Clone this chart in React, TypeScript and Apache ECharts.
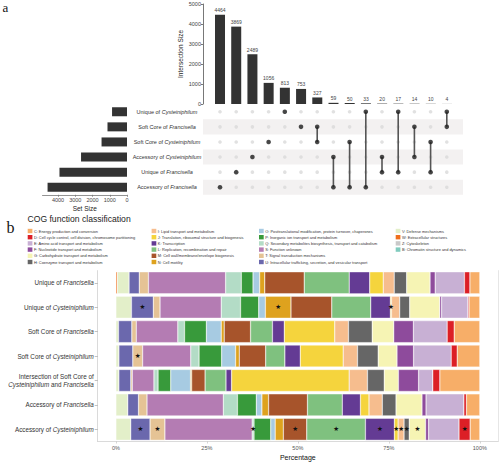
import React, { useEffect, useRef } from 'react';
import * as echarts from 'echarts';

// ---------- UpSet data ----------
const setNames = [
  'Unique of Cysteiniphilum',
  'Soft Core of Francisella',
  'Soft Core of Cysteiniphilum',
  'Accessory of Cysteiniphilum',
  'Unique of Francisella',
  'Accessory of Francisella',
];
const setSizes = [867, 1131, 1476, 2665, 3916, 4606];
const intersectionSizes = [4464, 3869, 2489, 1056, 813, 753, 327, 59, 50, 33, 20, 17, 14, 10, 4];
const intersectionMembers = [
  [5], [4], [3], [2], [0], [1], [1, 2], [3, 5], [2, 5], [0, 5], [3, 4], [0, 4], [1, 3], [2, 4], [0, 1],
];
const intersectionSizeTicks = [0, 1000, 2000, 3000, 4000, 5000];
const setSizeTicks = [0, 1000, 2000, 3000, 4000];

// ---------- COG data ----------
const cogCodes = ['C', 'D', 'E', 'F', 'G', 'H', 'I', 'J', 'K', 'L', 'M', 'N', 'O', 'P', 'Q', 'S', 'T', 'U', 'V', 'W', 'Z', 'B'];
const cogNames = [
  'C: Energy production and conversion',
  'D: Cell cycle control, cell division, chromosome partitioning',
  'E: Amino acid transport and metabolism',
  'F: Nucleotide transport and metabolism',
  'G: Carbohydrate transport and metabolism',
  'H: Coenzyme transport and metabolism',
  'I: Lipid transport and metabolism',
  'J: Translation, ribosomal structure and biogenesis',
  'K: Transcription',
  'L: Replication, recombination and repair',
  'M: Cell wall/membrane/envelope biogenesis',
  'N: Cell motility',
  'O: Posttranslational modification, protein turnover, chaperones',
  'P: Inorganic ion transport and metabolism',
  'Q: Secondary metabolites biosynthesis, transport and catabolism',
  'S: Function unknown',
  'T: Signal transduction mechanisms',
  'U: Intracellular trafficking, secretion, and vesicular transport',
  'V: Defense mechanisms',
  'W: Extracellular structures',
  'Z: Cytoskeleton',
  'B: Chromatin structure and dynamics',
];
const cogRows = [
  'Unique of Francisella',
  'Unique of Cysteiniphilum',
  'Soft Core of Francisella',
  'Soft Core of Cysteiniphilum',
  'Intersection of Soft Core of\nCysteiniphilum and Francisella',
  'Accessory of Francisella',
  'Accessory of Cysteiniphilum',
];
// values in cogCodes order (C ... B)
const uniqueFrancisella = [2.7, 1.5, 8.0, 1.4, 6.4, 3.4, 3.0, 3.7, 5.6, 12.3, 10.8, 1.4, 1.8, 3.2, 4.3, 21.1, 2.5, 2.8, 3.2, 0.4, 0, 0];
const uniqueCysteiniphilum = [2.9, 0.3, 7.1, 0.5, 8.1, 2.7, 2.2, 0.3, 5.3, 10.5, 11.0, 6.9, 1.8, 4.9, 5.2, 16.5, 1.8, 5.9, 4.2, 0, 0, 0];
const softCoreFrancisella = [6.9, 1.9, 9.1, 5.3, 5.8, 6.4, 3.7, 13.6, 3.2, 5.9, 7.1, 0.8, 4.0, 5.9, 1.8, 11.2, 1.2, 3.6, 0.7, 0, 0, 0];
const softCoreCysteiniphilum = [6.0, 1.6, 10.0, 4.4, 5.0, 5.5, 3.8, 11.4, 4.1, 5.1, 7.0, 1.0, 3.7, 6.0, 2.2, 12.8, 2.6, 3.7, 0.8, 0, 0, 0];
const intersectionSoftCore = [10.7, 1.9, 3.8, 5.4, 3.8, 4.5, 4.9, 31.5, 1.5, 5.6, 3.6, 0.3, 5.3, 3.4, 1.1, 5.8, 0.4, 3.2, 0.8, 0, 0, 0];
const accessoryFrancisella = [3.6, 0.7, 10.2, 1.1, 7.0, 3.7, 3.6, 2.3, 4.9, 9.4, 10.5, 1.8, 1.5, 5.1, 3.8, 20.6, 2.3, 2.9, 3.2, 0, 0, 0];
const accessoryCysteiniphilum = [2.6, 3.0, 8.2, 0.8, 4.4, 1.4, 1.6, 1.0, 7.8, 15.8, 6.3, 2.2, 1.2, 4.5, 0.5, 23.5, 4.0, 5.2, 4.0, 0, 0, 0];
const rowValues = [
  uniqueFrancisella, uniqueCysteiniphilum, softCoreFrancisella, softCoreCysteiniphilum,
  intersectionSoftCore, accessoryFrancisella, accessoryCysteiniphilum,
];
const starsUniqueCysteiniphilum = ['U', 'N', 'J'];
const starsSoftCoreCysteiniphilum = ['T'];
const starsAccessoryCysteiniphilum = ['U', 'T', 'Q', 'M', 'L', 'K', 'J', 'I', 'H', 'G', 'D'];
const rowStars = [[], starsUniqueCysteiniphilum, [], starsSoftCoreCysteiniphilum, [], [], starsAccessoryCysteiniphilum];
const percentTicks = [0, 25, 50, 75, 100];

// ---------- styles ----------
const cogColors = [
  '#F7AE68', '#DC1F26', '#C8B0D4', '#8E4B9C', '#F6F4B4', '#666666', '#F6BD8E', '#F5D43D', '#643B94', '#7FC17F', '#A7542B',
  '#DEA21E', '#A7CBE2', '#389A3B', '#B3DCC6', '#B47CB3', '#E5C395', '#6B68AD', '#E3EFC9', '#EF6F1C', '#C9C9C9', '#80CBBE',
];
const FONT = '"Liberation Sans", Arial, sans-serif';

function italicize(label: string): string {
  return label
    .split('\n')
    .map((line) =>
      line
        .split(/(Francisella|Cysteiniphilum)/)
        .filter((s) => s.length > 0)
        .map((s) => (s === 'Francisella' || s === 'Cysteiniphilum' ? `{i|${s}}` : `{n|${s}}`))
        .join('')
    )
    .join('\n');
}

const plain = (v: number) => String(v);

function buildOption() {
  const series: any[] = [];

  // intersection size bars
  series.push({
    type: 'bar',
    xAxisIndex: 0,
    yAxisIndex: 0,
    data: intersectionSizes,
    barWidth: 10,
    itemStyle: { color: '#333333' },
    label: { show: true, position: 'top', distance: 2, fontSize: 5, color: '#444', fontFamily: FONT },
    silent: true,
  });

  // matrix background dots
  const bgDots: number[][] = [];
  intersectionSizes.forEach((_, i) => setNames.forEach((__, j) => bgDots.push([i, j])));
  series.push({
    type: 'scatter',
    xAxisIndex: 1,
    yAxisIndex: 1,
    data: bgDots,
    symbolSize: 3.6,
    itemStyle: { color: '#DADADA' },
    silent: true,
    z: 2,
  });
  // connecting lines
  intersectionMembers.forEach((m, i) => {
    if (m.length > 1) {
      series.push({
        type: 'line',
        xAxisIndex: 1,
        yAxisIndex: 1,
        data: [[i, Math.min(...m)], [i, Math.max(...m)]],
        symbol: 'none',
        lineStyle: { color: '#555', width: 1.6 },
        silent: true,
        z: 3,
      });
    }
  });
  // member dots
  const memberDots: number[][] = [];
  intersectionMembers.forEach((m, i) => m.forEach((j) => memberDots.push([i, j])));
  series.push({
    type: 'scatter',
    xAxisIndex: 1,
    yAxisIndex: 1,
    data: memberDots,
    symbolSize: 4.6,
    itemStyle: { color: '#1f1f1f' },
    silent: true,
    z: 4,
  });

  // set size bars
  series.push({
    type: 'bar',
    xAxisIndex: 2,
    yAxisIndex: 2,
    data: setSizes,
    barWidth: 9,
    itemStyle: { color: '#333333' },
    silent: true,
  });

  // COG stacked bars (ggplot fill -> shares of each row)
  const shares = rowValues.map((r) => {
    const t = r.reduce((a, b) => a + b, 0);
    return r.map((v) => (v / t) * 100);
  });
  for (let k = cogCodes.length - 1; k >= 0; k--) {
    series.push({
      type: 'bar',
      name: cogNames[k],
      xAxisIndex: 3,
      yAxisIndex: 3,
      stack: 'cog',
      barWidth: 22,
      itemStyle: { color: cogColors[k], borderColor: '#ffffff', borderWidth: 0.4 },
      emphasis: { disabled: true },
      data: cogRows.map((_, r) => {
        const v = shares[r][k];
        if (rowStars[r].includes(cogCodes[k])) {
          return {
            value: v,
            label: { show: true, formatter: '★', position: 'inside', color: '#111', fontSize: 6.5, fontFamily: 'DejaVu Sans' },
          };
        }
        return v;
      }),
    });
  }

  const legendCommon = {
    orient: 'vertical',
    top: 228.8,
    padding: 0,
    itemWidth: 4.7,
    itemHeight: 4.4,
    itemGap: 1.8,
    icon: 'rect',
    selectedMode: false,
    itemStyle: { borderWidth: 0 },
    textStyle: { fontSize: 3.9, color: '#333', lineHeight: 4.4, fontFamily: FONT, padding: [0, 0, 0, -3.5] },
  };

  return {
    animation: false,
    textStyle: { fontFamily: FONT },
    title: {
      text: 'COG function classification',
      left: 27.5,
      top: 214.5,
      padding: 0,
      textStyle: { fontSize: 8.6, fontWeight: 'normal', color: '#222', fontFamily: FONT },
    },
    legend: [
      { ...legendCommon, left: 27.7, data: cogNames.slice(0, 6) },
      { ...legendCommon, left: 151.6, data: cogNames.slice(6, 12) },
      { ...legendCommon, left: 259, data: cogNames.slice(12, 18) },
      { ...legendCommon, left: 395.7, data: cogNames.slice(18) },
    ],
    graphic: [
      { type: 'text', left: 2.5, top: 0.5, style: { text: 'a', font: '13px "Liberation Serif", serif', fill: '#111' } },
      { type: 'text', left: 6.5, top: 219.5, style: { text: 'b', font: '16px "Liberation Serif", serif', fill: '#111' } },
    ],
    grid: [
      { left: 211.9, right: 44.9, top: 4, height: 100 },
      { left: 203, right: 37, top: 104.2, height: 90.6 },
      { left: 42.5, right: 373, top: 104.2, height: 90.6 },
      { left: 97.7, right: 2, top: 270.6, height: 173.8 },
    ],
    xAxis: [
      {
        gridIndex: 0,
        type: 'category',
        data: intersectionSizes.map((_, i) => String(i)),
        show: false,
      },
      { gridIndex: 1, type: 'value', min: -1.05, max: 15, show: false },
      {
        gridIndex: 2,
        type: 'value',
        inverse: true,
        min: 0,
        max: 4900,
        axisLine: { show: true, onZero: false, lineStyle: { color: '#777', width: 0.8 } },
        axisTick: { show: true, length: 2, customValues: setSizeTicks, lineStyle: { color: '#777', width: 0.8 } },
        axisLabel: { fontSize: 5.5, color: '#444', margin: 2.5, customValues: setSizeTicks, formatter: plain },
        splitLine: { show: false },
        name: 'Set Size',
        nameLocation: 'middle',
        nameGap: 10,
        nameTextStyle: { fontSize: 6.5, color: '#222' },
      },
      {
        gridIndex: 3,
        type: 'value',
        min: -5,
        max: 105,
        axisLine: { show: true, onZero: false, lineStyle: { color: '#d0d0d0', width: 0.8 } },
        axisTick: { show: true, length: 2, customValues: percentTicks, lineStyle: { color: '#bbb', width: 0.6 } },
        axisLabel: { fontSize: 5.5, color: '#555', margin: 3, customValues: percentTicks, formatter: '{value}%' },
        splitLine: { show: false },
        name: 'Percentage',
        nameLocation: 'middle',
        nameGap: 12.5,
        nameTextStyle: { fontSize: 7, color: '#111' },
      },
    ],
    yAxis: [
      {
        gridIndex: 0,
        type: 'value',
        min: 0,
        max: 5000,
        offset: 8.9,
        axisLine: { show: true, onZero: false, lineStyle: { color: '#555', width: 0.8 } },
        axisTick: { show: true, length: 2, customValues: intersectionSizeTicks, lineStyle: { color: '#555', width: 0.8 } },
        axisLabel: { fontSize: 5.5, color: '#444', margin: 2, customValues: intersectionSizeTicks, formatter: plain },
        splitLine: { show: false },
        name: 'Intersection Size',
        nameLocation: 'middle',
        nameGap: 19,
        nameTextStyle: { fontSize: 6.5, color: '#222' },
      },
      {
        gridIndex: 1,
        type: 'category',
        data: setNames,
        inverse: true,
        axisLine: { show: false },
        axisTick: { show: false, interval: 0 },
        axisLabel: {
          interval: 0,
          margin: 36,
          align: 'center',
          formatter: (v: string) => italicize(v),
          rich: {
            n: { fontSize: 5.5, color: '#333', fontFamily: FONT },
            i: { fontSize: 5.5, color: '#333', fontStyle: 'italic', fontFamily: FONT },
          },
        },
        splitLine: { show: false },
        splitArea: { show: true, interval: 0, areaStyle: { color: ['rgba(255,255,255,0)', '#F3F1F1'] } },
      },
      {
        gridIndex: 2,
        type: 'category',
        data: setNames,
        inverse: true,
        show: false,
      },
      {
        gridIndex: 3,
        type: 'category',
        data: cogRows,
        inverse: true,
        axisLine: { show: true, onZero: false, lineStyle: { color: '#d0d0d0', width: 0.8 } },
        axisTick: { show: true, length: 3, alignWithLabel: true, interval: 0, lineStyle: { color: '#999', width: 0.6 } },
        axisLabel: {
          interval: 0,
          margin: 4,
          formatter: (v: string) => italicize(v),
          rich: {
            n: { fontSize: 6.3, color: '#333', fontFamily: FONT, lineHeight: 8.5 },
            i: { fontSize: 6.3, color: '#333', fontStyle: 'italic', fontFamily: FONT, lineHeight: 8.5 },
          },
        },
        splitLine: { show: false },
      },
      {
        gridIndex: 3,
        type: 'category',
        data: cogRows,
        inverse: true,
        position: 'right',
        axisLine: { show: true, onZero: false, lineStyle: { color: '#e0e0e0', width: 0.8 } },
        axisTick: { show: false },
        axisLabel: { show: false },
        splitLine: { show: false },
      },
    ],
    series,
  };
}

export default function App() {
  const ref = useRef<HTMLDivElement>(null);
  useEffect(() => {
    document.body.style.margin = '0';
    if (!ref.current) return;
    const chart = echarts.init(ref.current, null, { renderer: 'svg' });
    chart.setOption(buildOption() as any);
    return () => chart.dispose();
  }, []);
  return <div ref={ref} style={{ width: 500, height: 462, background: '#fff' }} />;
}
